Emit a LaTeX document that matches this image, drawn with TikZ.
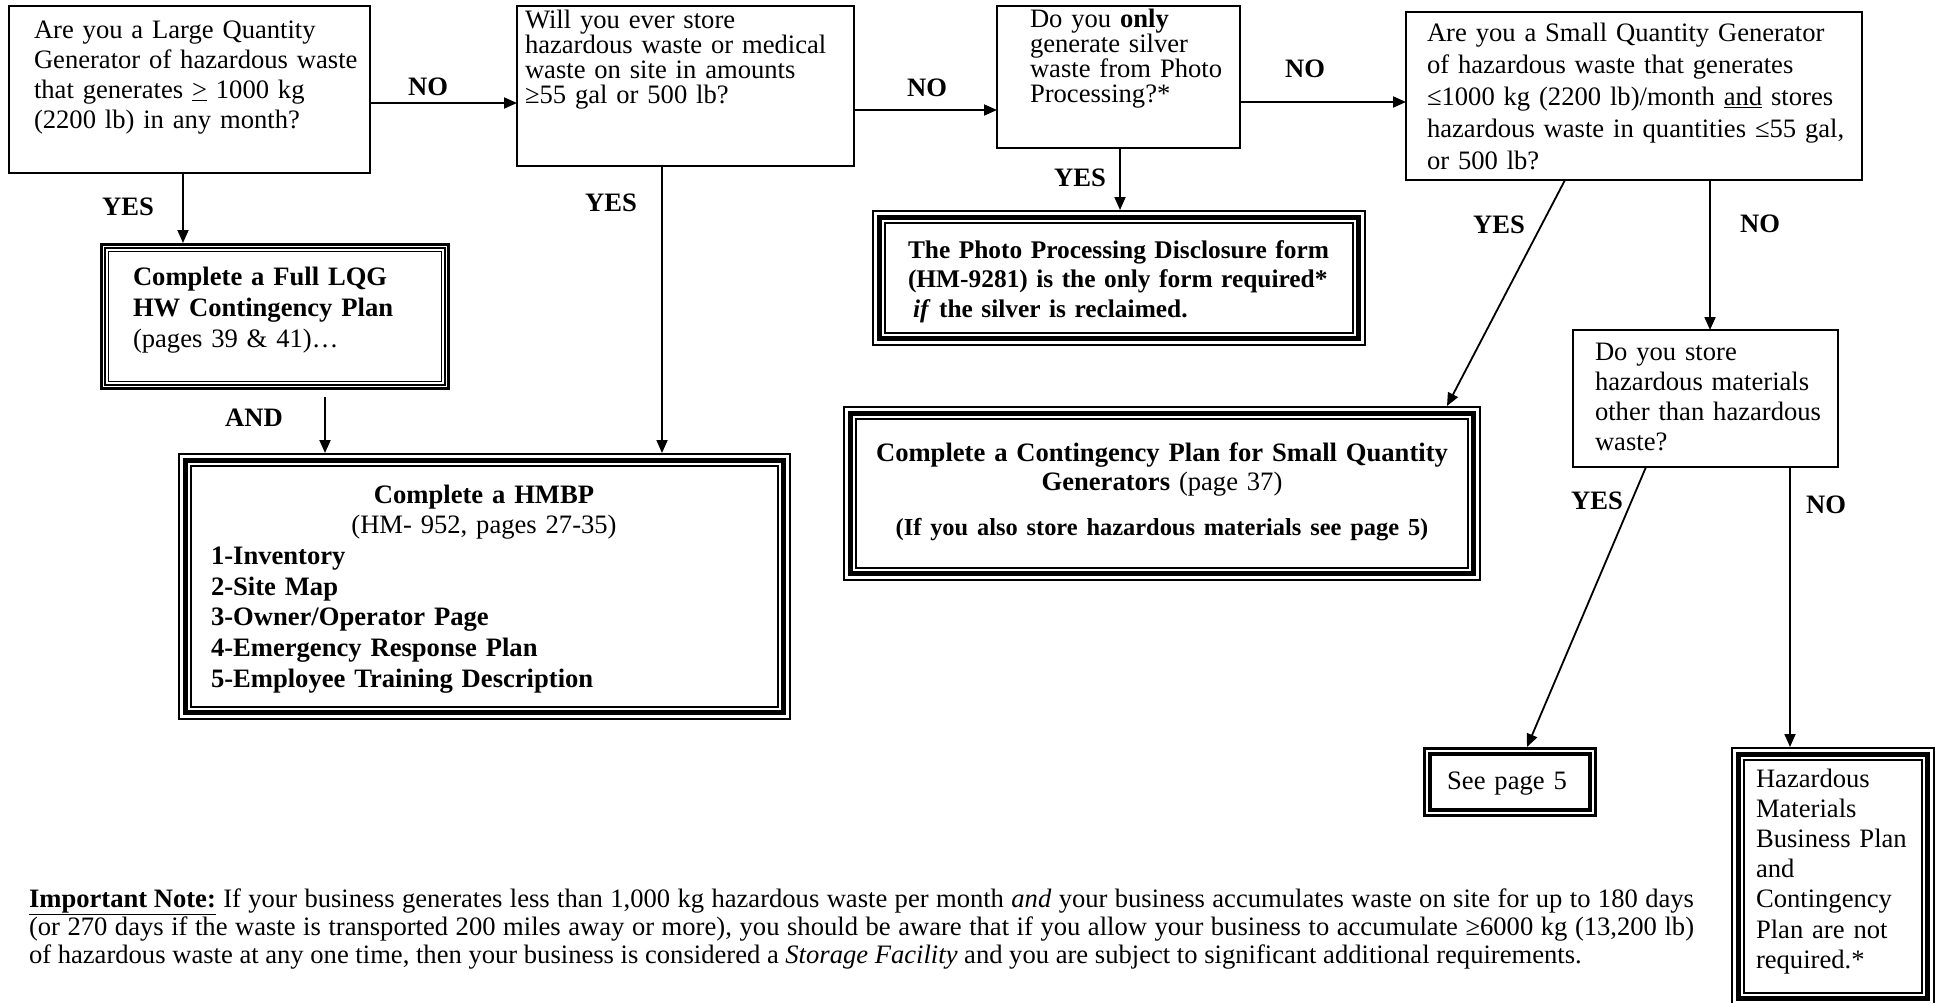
\documentclass[tikz,border=0pt]{standalone}
\usepackage{fontspec}
\setmainfont{Liberation Serif}
\usetikzlibrary{arrows.meta,calc}

\newcommand\myfs[2]{\fontsize{#1pt}{#2pt}\selectfont}

\tikzset{
  qbox/.style={draw, line width=2.4pt, inner sep=0pt, outer sep=0pt, anchor=north west},
  frm/.style={draw=none, inner sep=0pt, outer sep=0pt, anchor=north west},
  txt/.style={inner sep=0pt, outer sep=0pt, anchor=base west, align=left, text width=#1},
  txt/.default=480pt,
  lbl/.style={inner sep=0pt, font=\bfseries\myfs{26.6}{30}},
  arr/.style={line width=1.8pt, -{Triangle[length=13pt,width=11pt]}},
}

% thin - thick - thin frame
\newcommand\tripframe[1]{%
  \draw[line width=2.4pt] ($(#1.north west)+(1.2,-1.2)$) rectangle ($(#1.south east)+(-1.2,1.2)$);
  \draw[line width=5pt] ($(#1.north west)+(7.5,-7.5)$) rectangle ($(#1.south east)+(-7.5,7.5)$);
  \draw[line width=2pt] ($(#1.north west)+(13,-13)$) rectangle ($(#1.south east)+(-13,13)$);}
% thick - thin - thin frame
\newcommand\thickthinframe[1]{%
  \draw[line width=2.8pt] ($(#1.north west)+(1.4,-1.4)$) rectangle ($(#1.south east)+(-1.4,1.4)$);
  \draw[line width=1.2pt] ($(#1.north west)+(5,-5)$) rectangle ($(#1.south east)+(-5,5)$);
  \draw[line width=1.6pt] ($(#1.north west)+(8.5,-8.5)$) rectangle ($(#1.south east)+(-8.5,8.5)$);}
% double frame
\newcommand\dblframe[1]{%
  \draw[line width=2.7pt] ($(#1.north west)+(1.35,-1.35)$) rectangle ($(#1.south east)+(-1.35,1.35)$);
  \draw[line width=3.3pt] ($(#1.north west)+(7,-7)$) rectangle ($(#1.south east)+(-7,7)$);}

\begin{document}
\begin{tikzpicture}[x=1pt,y=1pt]
\useasboundingbox (0,0) rectangle (1942,-1003);

% ---------- question boxes ----------
\node[qbox, minimum width=361pt, minimum height=167pt] (q1) at (9,-6) {};
\node[qbox, minimum width=337pt, minimum height=160pt] (q2) at (517,-6) {};
\node[qbox, minimum width=243pt, minimum height=142pt] (q3) at (997,-6) {};
\node[qbox, minimum width=456pt, minimum height=168pt] (q4) at (1406,-12) {};
\node[qbox, minimum width=265pt, minimum height=137pt] (q5) at (1573,-330) {};

% ---------- result boxes ----------
\node[frm, minimum width=350pt, minimum height=147pt] (lqg) at (100,-243) {};
\thickthinframe{lqg}
\node[frm, minimum width=613pt, minimum height=267pt] (hmbp) at (178,-453) {};
\tripframe{hmbp}
\node[frm, minimum width=494pt, minimum height=136pt] (photo) at (872,-210) {};
\tripframe{photo}
\node[frm, minimum width=638pt, minimum height=175pt] (sqg) at (843,-406) {};
\tripframe{sqg}
\node[frm, minimum width=174pt, minimum height=70pt] (see5) at (1423,-747) {};
\dblframe{see5}
\node[frm, minimum width=204pt, minimum height=259pt] (fin) at (1731,-747) {};
\tripframe{fin}

% ---------- texts ----------
\node[txt, font=\myfs{26.6}{30}] (t1) at (34,-39)
  {Are you a Large Quantity\\Generator of hazardous waste\\that generates \underline{>} 1000 kg\\(2200 lb) in any month?};
\node[txt, font=\myfs{26.6}{25}] (t2) at (525,-29)
  {Will you ever store\\hazardous waste or medical\\waste on site in amounts\\≥55 gal or 500 lb?};
\node[txt, font=\myfs{26.6}{25}] (t3) at (1030,-28)
  {Do you \textbf{only}\\generate silver\\waste from Photo\\Processing?*};
\node[txt, font=\myfs{26.6}{32}] (t4) at (1427,-42)
  {Are you a Small Quantity Generator\\of hazardous waste that generates\\≤1000 kg (2200 lb)/month \underline{and} stores\\hazardous waste in quantities ≤55 gal,\\or 500 lb?};
\node[txt, font=\myfs{26.6}{30}] (t5) at (1595,-360)
  {Do you store\\hazardous materials\\other than hazardous\\waste?};
\node[txt, font=\myfs{26.6}{31}] (t8) at (133,-285)
  {\textbf{Complete a Full LQG}\\\textbf{HW Contingency Plan}\\(pages 39 \& 41)…};
\node[txt=546pt, font=\myfs{26.6}{30.7}] (t9) at (211,-503)
  {\makebox[\linewidth]{\textbf{Complete a HMBP}}\\
   \makebox[\linewidth]{(HM- 952, pages 27-35)}\\
   \textbf{1-Inventory}\\\textbf{2-Site Map}\\\textbf{3-Owner/Operator Page}\\
   \textbf{4-Emergency Response Plan}\\\textbf{5-Employee Training Description}};
\node[txt=450pt, font=\bfseries\myfs{25.4}{29.5}] (t10) at (908,-258)
  {The Photo Processing Disclosure form\\(HM-9281) is the only form required*\\\hspace*{5pt}\textit{if} the silver is reclaimed.};
\node[txt=620pt, anchor=base, align=center, font=\myfs{26.6}{29}] (t11) at (1162,-461)
  {\textbf{Complete a Contingency Plan for Small Quantity}\\\textbf{Generators} (page 37)\\[16pt]
   {\myfs{24.4}{26}\textbf{(If you also store hazardous materials see page 5)}}};
\node[txt=160pt, anchor=base, align=center, font=\myfs{26.6}{30}] (t7) at (1507,-789) {See page 5};
\node[txt=175pt, font=\myfs{26.6}{30.2}] (t6) at (1756,-787)
  {Hazardous\\Materials\\Business Plan\\and\\Contingency\\Plan are not\\required.*};

% note
\node[txt=1665pt, align=justify, font=\myfs{26.6}{28.3}] (note) at (29,-907)
  {\underline{\textbf{Important Note:}} If your business generates less than 1,000 kg hazardous waste per month \textit{and} your business accumulates waste on site for up to 180 days\linebreak
   (or 270 days if the waste is transported 200 miles away or more), you should be aware that if you allow your business to accumulate ≥6000 kg (13,200 lb)\linebreak
   of hazardous waste at any one time, then your business is considered a \textit{Storage Facility} and you are subject to significant additional requirements.};

% ---------- connectors ----------
\draw[arr] (q1.east |- 0,-103) -- (q2.west |- 0,-103);
\draw[arr] (q2.east |- 0,-110) -- (q3.west |- 0,-110);
\draw[arr] (q3.east |- 0,-102) -- (q4.west |- 0,-102);
\draw[arr] (q1.south -| 183,0) -- (lqg.north -| 183,0);
\draw[arr, shorten <=7pt] (lqg.south -| 325,0) -- (hmbp.north -| 325,0);
\draw[arr] (q2.south -| 662,0) -- (hmbp.north -| 662,0);
\draw[arr] (q3.south -| 1120,0) -- (photo.north -| 1120,0);
\draw[arr] (q4.south -| 1565,0) -- (sqg.north -| 1447,0);
\draw[arr] (q4.south -| 1710,0) -- (q5.north -| 1710,0);
\draw[arr] (q5.south -| 1646,0) -- (see5.north -| 1527,0);
\draw[arr] (q5.south -| 1790,0) -- (fin.north -| 1790,0);

% ---------- labels ----------
\node[lbl] (lno1) at (428,-87) {NO};
\node[lbl] (lyes1) at (128,-207) {YES};
\node[lbl] (lno2) at (927,-88) {NO};
\node[lbl] (lyes2) at (611,-203) {YES};
\node[lbl] (lno3) at (1305,-69) {NO};
\node[lbl] (lyes3) at (1080,-178) {YES};
\node[lbl] (lyes4) at (1499,-225) {YES};
\node[lbl] (lno4) at (1760,-224) {NO};
\node[lbl] (lyes5) at (1597,-501) {YES};
\node[lbl] (lno5) at (1826,-505) {NO};
\node[lbl] (land) at (254,-418) {AND};
\end{tikzpicture}
\end{document}
